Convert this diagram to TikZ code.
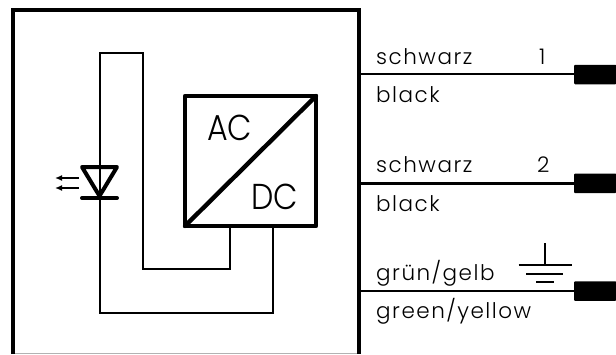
\documentclass[tikz,border=0pt]{standalone}
\usepackage{fontspec}
\setmainfont[LetterSpace=7]{Poppins Light}
\newfontfamily\bigf{Poppins Light}
\usetikzlibrary{arrows.meta}
\tikzset{
  frame/.style={line width=4.4pt,line cap=butt},
  conv/.style={line width=4.4pt,line join=round,line cap=round},
  wire/.style={line width=2pt,line join=miter},
  lead/.style={line width=2.4pt},
  pin/.style={fill=black,draw=none,rounded corners=0.8pt,inner sep=0pt,minimum width=42pt,minimum height=19.5pt,anchor=west},
  lab/.style={anchor=base west,inner sep=0pt,font=\fontsize{21.5}{21.5}\selectfont},
  big/.style={anchor=base west,inner sep=0pt,xscale=0.88,font=\fontsize{36}{36}\bigf},
  gnd/.style={line width=2pt},
  barw/.style={line width=4pt,line cap=round},
}
\begin{document}
\begin{tikzpicture}[x=1pt,y=-1pt]
\useasboundingbox (0,0) rectangle (616,354);
\fill[white] (0,0) rectangle (616,354);
% housing
\coordinate (hbl) at (13,354);\coordinate (htl) at (13,10);\coordinate (htr) at (359,10);\coordinate (hbr) at (359,354);
\coordinate (gl) at (13,353.5);\coordinate (gr) at (359,353.5);
\draw[line width=1pt,black!30] (gl) -- (gr);
\draw[frame,line join=miter] (hbl) -- (htl) -- (htr) -- (hbr);
% converter
\coordinate (ca) at (185,96);\coordinate (cb) at (316,96);\coordinate (cc) at (316,226);\coordinate (cd) at (185,226);
\coordinate (o1) at (229.5,226);\coordinate (o2) at (272.5,226);
\coordinate (lt) at (99.5,53);\coordinate (rt) at (143,53);\coordinate (m1) at (143,269);\coordinate (m2) at (229.5,269);
\coordinate (an) at (99.5,196);\coordinate (b1) at (99.5,312.5);\coordinate (b2) at (272.5,312.5);
\draw[wire] (an) -- (lt) -- (rt) -- (m1) -- (m2) -- (o1);
\draw[wire] (an) -- (b1) -- (b2) -- (o2);
\draw[conv] (ca) -- (cb) -- (cc) -- (cd) -- cycle;
\draw[conv] (cd) -- (cb);
\node[big] (ac) at (207,140) {AC};
\node[big] (dc) at (251,209) {DC};
% LED
\coordinate (t1) at (82,167);\coordinate (t2) at (117,167);\coordinate (k1) at (82,198);\coordinate (k2) at (117,198);
\draw[barw,line join=round] (t1) -- (t2) -- (an) -- cycle;
\draw[barw] (k1) -- (k2);
\coordinate (a1s) at (79,178);\coordinate (a1e) at (55,178);\coordinate (a2s) at (79,188);\coordinate (a2e) at (55,188);
\draw[line width=1.8pt,-{Latex[length=7pt,width=6pt]}] (a1s) -- (a1e);
\draw[line width=1.8pt,-{Latex[length=7pt,width=6pt]}] (a2s) -- (a2e);
% leads
\node[pin] (p1) at (574,74.5) {};
\node[pin] (p2) at (574,183.3) {};
\node[pin] (p3) at (574,291) {};
\coordinate (w1) at (359,74);\coordinate (w2) at (359,183.3);\coordinate (w3) at (359,291);
\draw[lead] (w1) -- (p1.west |- w1);
\draw[lead] (w2) -- (p2.west |- w2);
\draw[lead] (w3) -- (p3.west |- w3);
\node[lab] (s1) at (376,64) {schwarz};
\node[lab] (b1l) at (376,102.7) {black};
\node[lab] (n1) at (539,64) {1};
\node[lab] (s2) at (376,172.7) {schwarz};
\node[lab] (b2l) at (376,211) {black};
\node[lab] (n2) at (537,172.7) {2};
\node[lab] (g1) at (376,280.6) {grün/gelb};
\node[lab] (g2) at (376,318) {green/yellow};
% earth
\coordinate (e0) at (545,243);\coordinate (e1) at (545,265);
\coordinate (e1a) at (518.5,265);\coordinate (e1b) at (572,265);
\coordinate (e2a) at (526,274);\coordinate (e2b) at (563,274);
\coordinate (e3a) at (536,282);\coordinate (e3b) at (554,282);
\draw[gnd] (e0) -- (e1);
\draw[gnd] (e1a) -- (e1b);
\draw[gnd] (e2a) -- (e2b);
\draw[gnd] (e3a) -- (e3b);
\end{tikzpicture}
\end{document}
